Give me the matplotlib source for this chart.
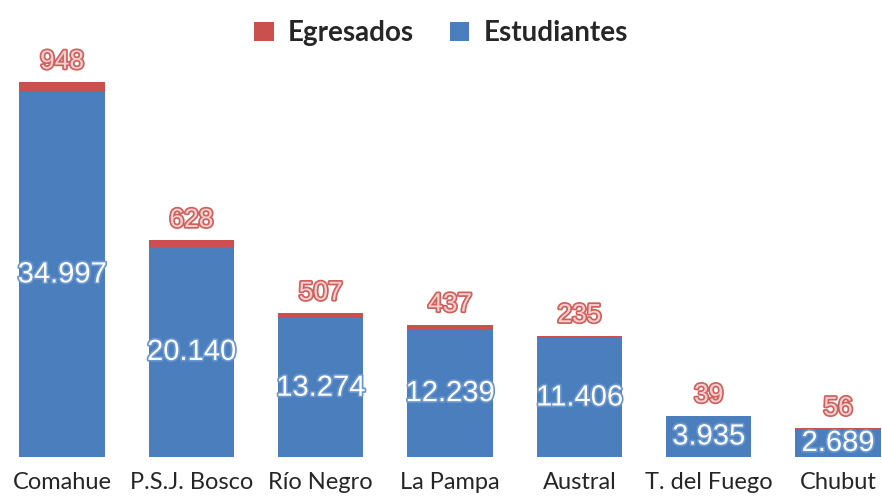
import matplotlib.pyplot as plt
import matplotlib.patheffects as pe
import numpy as np

# DATA
universidades = ['Comahue', 'P.S.J. Bosco', 'Río Negro', 'La Pampa', 'Austral', 'T. del Fuego', 'Chubut']
estudiantes = [34997, 20140, 13274, 12239, 11406, 3935, 2689]
egresados = [948, 628, 507, 437, 235, 39, 56]

azul = '#4A7EBD'
rojo = '#C9504D'

def fmt(v):
    return f'{v:,}'.replace(',', '.')

fig = plt.figure(figsize=(8.82, 4.97), dpi=100)
ax = fig.add_axes([0, 0.0805, 1, 0.9195])

x = np.arange(len(universidades))
ax.bar(x, estudiantes, width=0.66, color=azul, label='Estudiantes')
ax.bar(x, egresados, width=0.66, bottom=estudiantes, color=rojo, label='Egresados')

# etiquetas
for i in range(len(x)):
    ax.text(x[i], estudiantes[i] / 2, fmt(estudiantes[i]), ha='center', va='center',
            fontsize=21, color='white', family='Liberation Sans',
            path_effects=[pe.withStroke(linewidth=2.5, foreground='#6A96CF')])
    ax.annotate(fmt(egresados[i]), (x[i], estudiantes[i] + egresados[i]), xytext=(0, 6),
                textcoords='offset points', ha='center', va='bottom',
                fontsize=19, color='#F3D0CF', family='Liberation Sans',
                path_effects=[pe.withStroke(linewidth=2.5, foreground='#D0605C')])

ax.set_xlim(-0.48, 6.34)
ax.set_ylim(0, 43800)
ax.set_xticks(x)
ax.set_xticklabels(universidades, fontsize=17, family='Lato', color='#262626')
ax.tick_params(axis='x', length=0, pad=11)
ax.set_yticks([])
for s in ax.spines.values():
    s.set_visible(False)

h, l = ax.get_legend_handles_labels()
fig.legend(h[::-1], l[::-1], loc='upper center', bbox_to_anchor=(0.5, 1.01), ncol=2, frameon=False,
           prop={'family': 'Lato', 'size': 20, 'weight': 'bold'}, labelcolor='#262626',
           handlelength=0.7, handleheight=0.7, handletextpad=0.5, columnspacing=1.3)

plt.savefig('out.png', dpi=100)
